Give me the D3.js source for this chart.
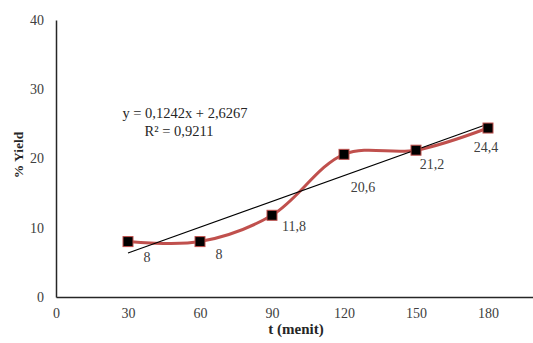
<!DOCTYPE html>
<html>
<head>
<meta charset="utf-8">
<script src="https://cdn.jsdelivr.net/npm/d3@7"></script>
<style>
  body { margin: 0; background: white; }
  text { font-family: "Liberation Serif", "Times New Roman", serif; fill: #404040; }
</style>
</head>
<body>
<div id="container"></div>
<script>
let w = 533;
let h = 343;

// data
let times = [30, 60, 90, 120, 150, 180];
let yields = [8, 8, 11.8, 20.6, 21.2, 24.4];
let labels = ["8", "8", "11,8", "20,6", "21,2", "24,4"];
let xTicks = [0, 30, 60, 90, 120, 150, 180];
let yTicks = [0, 10, 20, 30, 40];
let slope = 0.1242;
let intercept = 2.6267;
let eqText = "y = 0,1242x + 2,6267";
let r2Text = "R² = 0,9211";

// label nudges (px), placed by hand like in the original
let labelDx = [19, 19, 22, 19, 16, -2];
let labelDy = [17, 14, 12, 34, 16, 21];

let x = d3.scaleLinear().domain([0, 210]).range([56, 560]);
let y = d3.scaleLinear().domain([0, 40]).range([297, 20]);

let viz = d3.select("#container")
  .append("svg")
  .attr("width", w)
  .attr("height", h)
  .style("display", "block");

// axes
let xAxis = viz.append("g")
  .attr("transform", "translate(0," + y(0) + ")")
  .call(d3.axisBottom(x).tickValues(xTicks).tickSize(0).tickPadding(11));
xAxis.select(".domain").attr("stroke", "#262626").attr("stroke-width", 1.5);
xAxis.selectAll("text").style("font-size", "14px").attr("fill", "#404040");

let yAxis = viz.append("g")
  .attr("transform", "translate(" + x(0) + ",0)")
  .call(d3.axisLeft(y).tickValues(yTicks).tickSize(0).tickPadding(12));
yAxis.select(".domain").attr("stroke", "#262626").attr("stroke-width", 1.5);
yAxis.selectAll("text").style("font-size", "14px").attr("fill", "#404040");

// axis titles
viz.append("text")
  .attr("x", 296)
  .attr("y", 334)
  .attr("text-anchor", "middle")
  .style("font-size", "15px")
  .style("font-weight", "bold")
  .style("fill", "#262626")
  .text("t (menit)");

viz.append("text")
  .attr("transform", "translate(23,155) rotate(-90)")
  .attr("text-anchor", "middle")
  .style("font-size", "13.5px")
  .style("font-weight", "bold")
  .style("fill", "#262626")
  .text("% Yield");

let points = times.map((t, i) => ({ t: t, v: yields[i], label: labels[i], dx: labelDx[i], dy: labelDy[i] }));

// smoothed series
let line = d3.line()
  .x(d => x(d.t))
  .y(d => y(d.v))
  .curve(d3.curveCatmullRom.alpha(0.5));

viz.append("path")
  .datum(points)
  .attr("d", line)
  .attr("fill", "none")
  .attr("stroke", "#c0504d")
  .attr("stroke-width", 3);

// linear trendline
let tMin = d3.min(times);
let tMax = d3.max(times);
viz.append("line")
  .attr("x1", x(tMin))
  .attr("y1", y(slope * tMin + intercept))
  .attr("x2", x(tMax))
  .attr("y2", y(slope * tMax + intercept))
  .attr("stroke", "black")
  .attr("stroke-width", 1.2);

// markers
viz.selectAll("rect.marker")
  .data(points)
  .enter()
  .append("rect")
  .attr("class", "marker")
  .attr("x", d => x(d.t) - 5)
  .attr("y", d => y(d.v) - 5)
  .attr("width", 10)
  .attr("height", 10)
  .attr("fill", "black")
  .attr("stroke", "#c0504d")
  .attr("stroke-width", 1);

// data labels
viz.selectAll("text.lbl")
  .data(points)
  .enter()
  .append("text")
  .attr("class", "lbl")
  .attr("x", d => x(d.t) + d.dx)
  .attr("y", d => y(d.v) + d.dy)
  .attr("text-anchor", "middle")
  .attr("dominant-baseline", "middle")
  .style("font-size", "14px")
  .text(d => d.label);

// equation
viz.append("text")
  .attr("x", 185)
  .attr("y", 118)
  .attr("text-anchor", "middle")
  .style("font-size", "14.5px")
  .style("fill", "#262626")
  .text(eqText);

viz.append("text")
  .attr("x", 179)
  .attr("y", 136)
  .attr("text-anchor", "middle")
  .style("font-size", "14.5px")
  .style("fill", "#262626")
  .text(r2Text);
</script>
</body>
</html>
